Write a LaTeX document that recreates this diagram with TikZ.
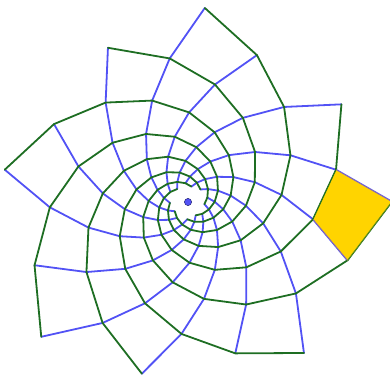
\documentclass[tikz,border=0pt]{standalone}
\definecolor{bl}{RGB}{82,82,245}
\definecolor{gr}{RGB}{30,110,35}
\definecolor{gold}{RGB}{255,212,0}
\definecolor{navy}{RGB}{40,40,120}
\definecolor{purp}{RGB}{140,110,170}
\tikzset{
  blueline/.style={draw=bl,line width=1.8pt,line cap=round,line join=round},
  greenline/.style={draw=gr,line width=1.8pt,line cap=round,line join=round}
}
\begin{document}
\begin{tikzpicture}[x=1pt,y=1pt]
\useasboundingbox (0,0) rectangle (390,-374);
\begin{scope}[shift={(188,-202)}]
  % lattice vertices
  \foreach \m in {0,...,13}{
    \foreach \n in {-16,...,1}{
      \coordinate (p\m x\n) at ({-7.88+20.18*\m-12.2075*\n}:{126.2*exp(0.02285*(8*\m+13*\n))});
    }
  }
  % blue edges (each drawn once)
  \foreach \cv in {-92,...,0}{
    \pgfmathtruncatemacro{\cm}{Mod(5*\cv,13)}
    \pgfmathtruncatemacro{\cn}{round((\cv-8*\cm)/13)}
    \pgfmathtruncatemacro{\cmA}{\cm+1}
    \pgfmathtruncatemacro{\cnA}{\cn+1}
    \draw[blueline] (p\cm x\cn) -- (p\cm x\cnA);
    \ifnum\cv>-8
      \draw[blueline] (p\cmA x\cn) -- (p\cmA x\cnA);
    \fi
  }
  % green edges (each drawn once)
  \foreach \cv in {-92,...,0}{
    \pgfmathtruncatemacro{\cm}{Mod(5*\cv,13)}
    \pgfmathtruncatemacro{\cn}{round((\cv-8*\cm)/13)}
    \pgfmathtruncatemacro{\cmA}{\cm+1}
    \pgfmathtruncatemacro{\cnA}{\cn+1}
    \draw[greenline] (p\cm x\cn) -- (p\cmA x\cn);
    \ifnum\cv>-13
      \draw[greenline] (p\cm x\cnA) -- (p\cmA x\cnA);
    \fi
  }
  % highlighted cell
  \fill[gold] (p0x0) -- (p1x0) -- (p1x1) -- (p0x1) -- cycle;
  \draw[purp,line width=0.8pt] (p1x0) -- (p1x1);
  \draw[purp,line width=0.8pt] (p0x0) -- (p0x1);
  \draw[gr,line width=0.8pt] (p0x0) -- (p1x0);
  \draw[gr!70!gold,line width=0.8pt] (p0x1) -- (p1x1);
  % centre
  \coordinate (c) at (0,0);
  \filldraw[fill=bl,draw=navy,line width=0.5pt] (c) circle (3.6);
\end{scope}
\end{tikzpicture}
\end{document}
